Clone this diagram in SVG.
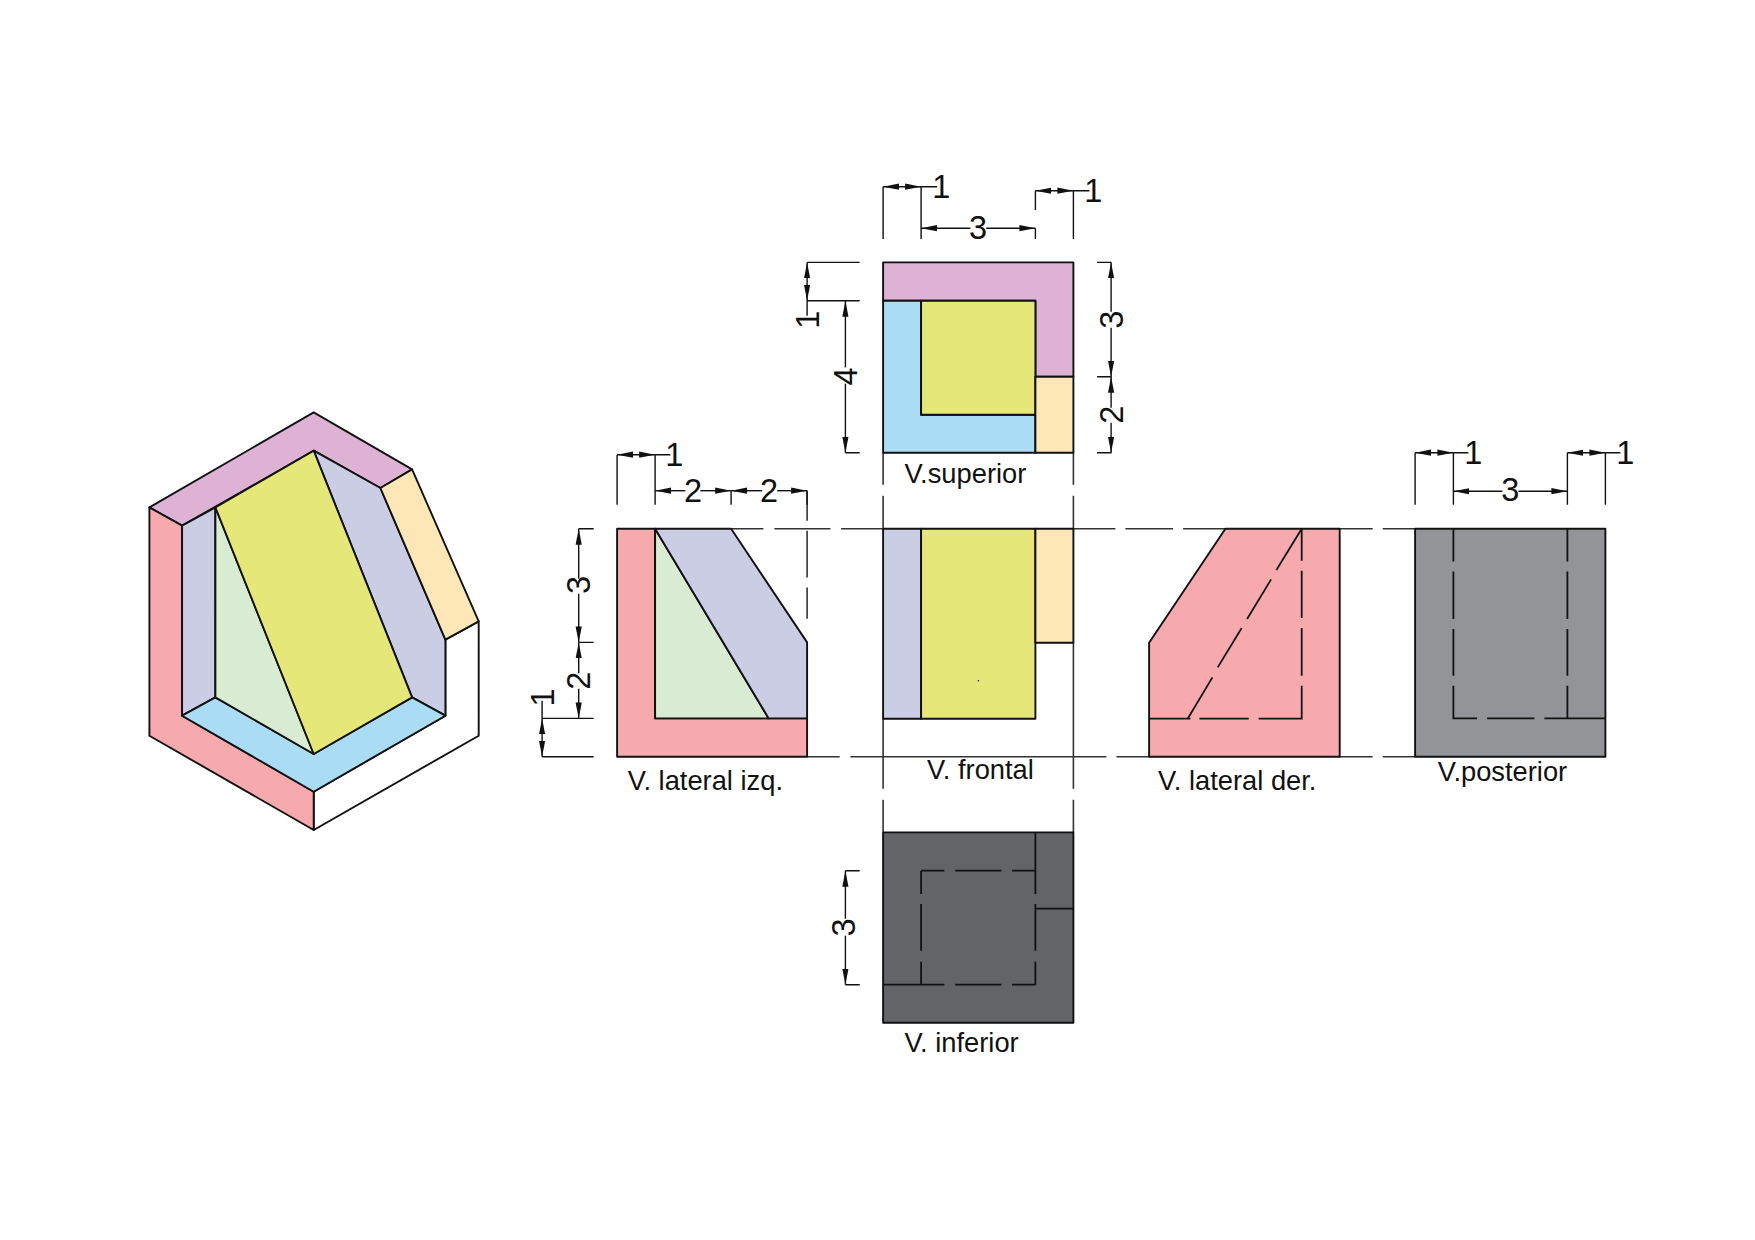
<svg xmlns="http://www.w3.org/2000/svg" width="1755" height="1240" viewBox="0 0 1755 1240">
<style>
.s{stroke:#111;stroke-width:1.9;stroke-linejoin:round;stroke-linecap:butt}
.l{fill:none;stroke:#111;stroke-width:1.8}
.g{fill:none;stroke:#333;stroke-width:1.6}
.d{fill:none;stroke:#111;stroke-width:1.4}
.a{fill:none;stroke:#111;stroke-width:1.4;marker-start:url(#ah);marker-end:url(#ah)}
.b{marker-start:url(#ah)}
.e{marker-end:url(#ah)}
.pk{fill:#f7aaad}.ma{fill:#deb2d4}.bl{fill:#abdcf6}.ye{fill:#e5e778}.li{fill:#cbcde4}.gr{fill:#d9ebd3}.cr{fill:#fde7b7}.wh{fill:#fff}.gy{fill:#929497}.dk{fill:#636466}
text{font-family:"Liberation Sans",Arial,sans-serif;fill:#111}
.t{font-size:27.3px}
.n{font-size:32.5px;text-anchor:middle}
</style>
<defs>
<marker id="ah" markerUnits="userSpaceOnUse" markerWidth="18" markerHeight="8" refX="16" refY="4" orient="auto-start-reverse" viewBox="0 0 18 8"><path d="M0,0.9 L16,4 L0,7.1 Z" fill="#111"/></marker>
</defs>
<rect width="1755" height="1240" fill="#fff"/>
<g transform="translate(0.4,0.7)">
<g id="isometrico">
<polygon class="s wh" points="445,639 478.3,620.7 478.3,735 313.3,829.3 313.3,791 445,715"/>
<polygon class="s ma" points="149,506.7 313.3,411.7 411.7,468.7 380,487.3 313.3,450 181.7,525"/>
<polygon class="s pk" points="149,506.7 181.7,525 181.7,715 313.3,791 313.3,829.3 149,735"/>
<polygon class="s li" points="181.7,525 215,506.7 215,696.7 181.7,715"/>
<polygon class="s li" points="313.3,450 380,487.3 445,639 445,715 411.7,696.7"/>
<polygon class="s cr" points="380,487.3 411.7,468.7 478.3,620.7 445,639"/>
<polygon class="s bl" points="181.7,715 215,696.7 313.3,753.3 411.7,696.7 445,715 313.3,791"/>
<polygon class="s gr" points="215,506.7 313.3,753.3 215,696.7"/>
<polygon class="s ye" points="215,506.7 313.3,450 411.7,696.7 313.3,753.3"/>
</g>
<g id="connectors">
<path class="g" d="M730.7,528H763M774,528H830M840.7,528H1115M1125,528H1172.7M1182.7,528H1225M1339.3,528H1372.3M1382.3,528H1414.7"/>
<path class="g" d="M806.7,756H839.3M850,756H1106M1116,756H1148.7M1339.3,756H1372.3M1382.3,756H1414.7"/>
<path class="g" d="M882.7,452V484M882.7,495V528M882.7,718V788M882.7,799V831.7"/>
<path class="g" d="M1073,452V484M1073,495V528M1073,642V788M1073,799V831.7"/>
<path class="g" d="M806.7,490V520M806.7,530V576.7M806.7,586.7V618"/>
<path class="d" d="M882.7,186V238.3M920.7,186V238.3M1035,190V209.3M1073,190V238.3M1035,227.5V238.3M920.7,186H936.7M1073,190H1089"/>
<path class="a" d="M882.7,186H920.7"/><path class="a" d="M1035,190H1073"/>
<path class="d b" d="M920.7,227.5H970"/><path class="d e" d="M985.7,227.5H1035"/>
<path class="d" d="M806.7,261.7H859.3M806.7,300H859.3M845,452H859.3M1096.7,261.7H1111M1096.7,376H1111M1096.7,452H1111M806.7,300V315"/>
<path class="a" d="M806.7,261.7V300"/>
<path class="d b" d="M845,300V366.7"/><path class="d e" d="M845,383V452"/>
<path class="d b" d="M1110.7,261.7V311"/><path class="d e" d="M1110.7,327V376"/>
<path class="d b" d="M1110.7,376V407"/><path class="d e" d="M1110.7,422V452"/>
<path class="d" d="M616.7,454V504M654.7,454V504M654.7,454H670M730.7,490V504M806.7,490V504"/>
<path class="a" d="M616.7,454H654.7"/>
<path class="d b" d="M654.7,490H685"/><path class="d e" d="M700,490H730.7"/>
<path class="d b" d="M730.7,490H761.7"/><path class="d e" d="M776.7,490H806.7"/>
<path class="d" d="M578.3,528H593.3M578.3,641.7H593.3M541.7,717.7H593.3M541.7,756H593.3M541.7,700V717.7"/>
<path class="d b" d="M578.3,528V578"/><path class="d e" d="M578.3,593V641.7"/>
<path class="d b" d="M578.3,641.7V672.7"/><path class="d e" d="M578.3,688V717.7"/>
<path class="a" d="M541.7,717.7V756"/>
<path class="d" d="M1414.7,452V504M1453,452V504M1567,452V504M1605,452V504M1453,452H1468M1605,452H1620"/>
<path class="a" d="M1414.7,452H1453"/><path class="a" d="M1567,452H1605"/>
<path class="d b" d="M1453,490.5H1502"/><path class="d e" d="M1518,490.5H1567"/>
<path class="d" d="M845,870H859.3M845,984H859.3"/>
<path class="d b" d="M845,870V918"/><path class="d e" d="M845,935V984"/>
</g>
<g id="v-superior">
<polygon class="s ma" points="882.7,261.7 1073,261.7 1073,376 1035,376 1035,300 882.7,300"/>
<polygon class="s bl" points="882.7,300 920.7,300 920.7,414 1035,414 1035,452 882.7,452"/>
<rect class="s ye" x="920.7" y="300" width="114.3" height="114"/>
<rect class="s cr" x="1035" y="376" width="38" height="76"/>
<text class="t" x="904" y="482.7">V.superior</text>
<text class="n" x="941" y="197.3">1</text>
<text class="n" x="1093" y="201">1</text>
<text class="n" x="977.7" y="238">3</text>
<text class="n" transform="translate(818.3,319) rotate(-90)">1</text>
<text class="n" transform="translate(856.7,375.7) rotate(-90)">4</text>
<text class="n" transform="translate(1122.3,319) rotate(-90)">3</text>
<text class="n" transform="translate(1122.3,414) rotate(-90)">2</text>
</g>
<g id="v-lateral-izq">
<polygon class="s pk" points="616.7,528 654.7,528 654.7,717.7 806.7,717.7 806.7,756 616.7,756"/>
<polygon class="s gr" points="654.7,528 768.3,717.7 654.7,717.7"/>
<polygon class="s li" points="654.7,528 730.7,528 806.7,641.7 806.7,717.7 768.3,717.7"/>
<text class="t" x="627.3" y="789.3">V. lateral izq.</text>
<text class="n" x="674" y="465.7">1</text>
<text class="n" x="692.7" y="501.7">2</text>
<text class="n" x="768.7" y="501.7">2</text>
<text class="n" transform="translate(590,584.3) rotate(-90)">3</text>
<text class="n" transform="translate(590,680) rotate(-90)">2</text>
<text class="n" transform="translate(553.3,696.7) rotate(-90)">1</text>
</g>
<g id="v-frontal">
<rect class="s li" x="882.7" y="528" width="38" height="190"/>
<rect class="s ye" x="920.7" y="528" width="114.3" height="190"/>
<rect class="s cr" x="1035" y="528" width="38" height="114"/>
<circle cx="978" cy="680" r="0.8" fill="#111"/>
<text class="t" x="926.7" y="778.3">V. frontal</text>
</g>
<g id="v-lateral-der">
<polygon class="s pk" points="1225,528 1339.3,528 1339.3,756 1148.7,756 1148.7,642"/>
<path class="l" d="M1148.7,718H1190M1199,718H1248.3M1258.3,718H1301.3V685M1301.3,675V627.3M1301.3,617.3V570M1301.3,560V528"/>
<path class="l" d="M1301.3,528L1276,569.3M1270.7,578.7L1246.7,618.3M1241.3,627.3L1217.3,666.7M1212,676.7L1187.3,718"/>
<text class="t" x="1157.7" y="789.3">V. lateral der.</text>
</g>
<g id="v-posterior">
<rect class="s gy" x="1414.7" y="528" width="190.3" height="228"/>
<path class="l" d="M1453,528V560.7M1453,570.7V618.3M1453,628.3V675M1453,685V717.7H1476.7M1486.7,717.7H1534M1544,717.7H1605"/>
<path class="l" d="M1567,528V560.7M1567,570.7V618.3M1567,628.3V675M1567,685V717.7"/>
<text class="t" x="1437.3" y="780">V.posterior</text>
<text class="n" x="1473" y="463">1</text>
<text class="n" x="1625" y="463">1</text>
<text class="n" x="1510" y="500.7">3</text>
</g>
<g id="v-inferior">
<rect class="s dk" x="882.7" y="831.7" width="190.3" height="190.3"/>
<path class="l" d="M920.7,870H944M954.7,870H1001M1011.7,870H1035M882.7,984H944M954.7,984H1001M1011.7,984H1035"/>
<path class="l" d="M920.7,870V893.3M920.7,903.3V950M920.7,961V984M1035,831.7V893.3M1035,903.3V950M1035,961V984M1035,908H1073"/>
<text class="t" x="904" y="1051.7">V. inferior</text>
<text class="n" transform="translate(855,926.7) rotate(-90)">3</text>
</g>
</g>
</svg>
